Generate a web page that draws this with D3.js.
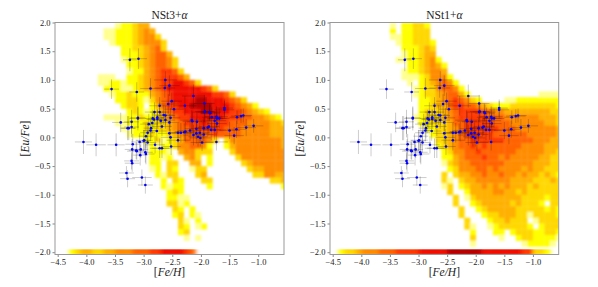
<!DOCTYPE html>
<html>
<head>
<meta charset="utf-8">
<script src="https://cdn.jsdelivr.net/npm/d3@7"></script>
<style>
body{margin:0;background:#fff;}
svg{display:block;}
text{font-family:"Liberation Serif","DejaVu Serif",serif;fill:#222;}
</style>
</head>
<body>
<svg id="chart" width="598" height="287"></svg>
<script>
//observed stars, the same in both panels
var feh = [-3.24,-3.09,-3.56,-3.12,-2.88,-2.62,-2.63,-2.55,-2.13,-2.51,-2.57,-2.72,-2.47,-2.28,-1.94,
	-2.81,-2.72,-2.84,-2.82,-2.76,-2.76,-2.65,-2.62,-2.70,-2.62,-2.53,-2.55,-3.40,-3.21,-3.10,-3.10,
	-3.28,-3.26,-3.21,-2.91,-2.85,-2.87,-2.88,-2.77,-2.68,-2.93,-2.96,-3.00,-3.07,-3.19,-3.20,-3.12,
	-3.05,-3.06,-2.97,-2.96,-4.05,-3.83,-3.48,-2.80,-2.72,-2.68,-2.52,-2.55,-2.40,-2.40,-2.29,
	-2.16,-2.15,-2.07,-1.94,-1.93,-1.85,-1.84,-1.59,-1.59,-1.73,-1.81,-1.72,-1.68,-1.76,-1.72,-1.86,-1.88,
	-1.95,-1.82,-1.76,-1.50,-1.38,-1.42,-1.37,-1.30,-1.26,-1.21,-1.08,-2.08,-2.19,-2.27,-2.35,-2.02,-2.08,
	-1.95,-2.05,-2.01,-2.13,-1.98,-1.73,-2.53,-3.30,-3.28,-3.21,-3.20,-3.03,-2.97,-3.13,-2.99,-2.93];
var eufe = [1.35,1.37,.84,.79,.85,1.00,.86,.90,.72,.63,.58,.55,.49,.55,.59,
	.44,.44,.33,.31,.35,.32,.39,.38,.29,.30,.34,.26,.26,.27,.34,.33,
	.16,.16,.18,.23,.25,.16,.12,.11,.19,.08,.02,-.06,-.08,-.12,-.21,-.24,
	-.21,-.31,-.26,-.29,-.08,-.13,-.13,-.13,-.19,-.19,-.16,.07,-.05,.08,.09,
	.30,.28,.27,.44,.45,.44,.42,.51,.48,.36,.35,.33,.33,.29,.24,.19,.17,
	.16,.13,.13,.12,.14,.03,.35,.37,.38,.17,.20,.15,.12,.10,.08,.08,.07,
	.05,.01,-.01,.04,-.09,-.08,0,-.62,-.72,-.41,-.45,-.70,-.83,-.23,-.05,-.09];
var fehErr = [.12,.15,.13,.13,.18,.20,.18,.18,.20,.18,.18,.18,.17,.20,.18,
	.17,.17,.13,.13,.13,.17,.17,.17,.13,.17,.17,.17,.15,.13,.13,.15,
	.13,.13,.13,.15,.17,.13,.13,.17,.17,.13,.13,.13,.15,.13,.13,.17,
	.13,.13,.13,.15,.15,.17,.15,.17,.17,.17,.17,.20,.20,.17,.18,
	.20,.17,.17,.20,.17,.20,.17,.15,.17,.20,.17,.17,.18,.20,.17,.18,.17,
	.17,.17,.20,.18,.17,.17,.13,.17,.15,.17,.17,.20,.20,.18,.18,.17,.20,
	.17,.17,.18,.18,.20,.20,.17,.13,.13,.13,.13,.17,.13,.13,.15,.15];
var eufeErr = [.20,.18,.17,.17,.18,.15,.17,.18,.20,.15,.17,.15,.15,.17,.15,
	.17,.17,.15,.15,.14,.15,.17,.17,.15,.15,.17,.15,.17,.21,.18,.21,
	.21,.21,.18,.18,.18,.18,.18,.17,.17,.18,.21,.18,.15,.18,.18,.15,
	.15,.18,.18,.18,.21,.20,.20,.15,.17,.17,.15,.18,.18,.17,.15,
	.17,.17,.17,.17,.15,.15,.15,.15,.15,.18,.17,.15,.17,.15,.17,.15,.15,
	.18,.18,.17,.15,.15,.15,.12,.12,.12,.15,.12,.18,.18,.17,.17,.18,.18,
	.17,.17,.15,.18,.15,.15,.15,.12,.15,.15,.15,.14,.15,.15,.18,.18];

//density levels, one row per 0.1 dex in [Eu/Fe] from 2.0 down,
//one character per 0.1 dex in [Fe/H] from -4.5, "." is an empty cell
var nst3Rows = [
	"..........122344",
	"........112223454",
	"........1122234553",
	".........1222345553",
	"...........22334563",
	"...........222345664",
	"...........1223456653",
	"............223456653",
	"............1224567763",
	".......111..22345677764",
	".......112212234567788763",
	"........22211234567888888763",
	".........1223222456788888887763",
	"..........22332135678888998887653",
	"...........2332.2467788999988876542",
	"............2321235677888998887765432",
	"........1111223223456778888887776655432",
	"..........112223233456777877776665555443",
	"...........11223233456677777766655555444",
	"............1222322345666667666655555444",
	"...............2231234666653.35555555554",
	"................21223556652..24555555554",
	"................2221.455333...3555555555",
	"................2212..453.2....355555555",
	"................22.33..44.2.....34555555",
	"................12.32..133.......3445555",
	".................2133...34........335544",
	"..................2.32...33..........334",
	"..................2122....2............2",
	"...................232",
	"...................2211",
	"...................3312",
	"....................32.2",
	"....................23.21",
	".....................31.2",
	".....................32.12",
	".....................23",
	"......................1.1"
];
var nst1Rows = [
	"..........1.22332",
	"..........2.22333",
	"..........1122333",
	"...........1223332",
	"............222343",
	"............122344",
	"...........11223452",
	".............2234542",
	"............12234554",
	"............111235552",
	".............1.2345652",
	"..............123356652",
	"..............1233456642............1111",
	"...............22345676532....1122222222",
	"...............2234467766543222333333332",
	"...............2333456777766554444444433",
	"..............12333456777776665555554443",
	"...............2233346677777666555555443",
	"................223345677777766655555554",
	".................23345677777666666555554",
	"..................3345667777776666655544",
	"..................2345667676666665555444",
	"...................235566766666655555443",
	"...................224566676656555554433",
	"...................134556666665555544433",
	"....................23555665655554544333",
	"...................3.3445565565545443432",
	"...................31.344555555444433343",
	"...................13.234454545444343333",
	"....................3..24444554434333333",
	".....................3.13444444443333233",
	".....................3..2344444343332.33",
	"......................3..234444433333232",
	"......................3...23344433133332",
	".......................3...2334333.13333",
	".......................31..12333332.2333",
	"........................2...22.233322332",
	"........................3....1..23322221",
	"........................1........122221"
];

//marginal strip at the foot of each panel, one level per 0.1 dex starting at stripStart
var nst3StripStart = -4.3;
var nst3Strip = [2,3,4,4,3,3,4,4,5,5,5,6,6,6,7,7,8,8,8,8,7,6];
var nst1StripStart = -4.4;
var nst1Strip = [2,3,3,4,5,5,5,6,6,6,7,7,7,7,8,8,8,8,8,9,9,9,9,9,9,8,8,8,8,8,8,8,7,7,3,3,2];

var xTicks = [-4.5,-4,-3.5,-3,-2.5,-2,-1.5,-1];
var yTicks = [-2,-1.5,-1,-.5,0,.5,1,1.5,2];
var levelColors = ["#ffff90","#ffff00","#ffd800","#ffb000","#ff8c00","#ff6400","#ff3800","#f01000","#b80000"];

var svg = d3.select("#chart");
var color = d3.scaleLinear().domain(d3.range(1,10)).range(levelColors);
var defs = svg.append("defs");
defs.append("filter").attr("id","soft")
	.attr("x","-5%").attr("y","-5%").attr("width","110%").attr("height","110%")
	.append("feGaussianBlur").attr("stdDeviation",1.25);
defs.append("filter").attr("id","softx")
	.attr("x","-5%").attr("y","-20%").attr("width","110%").attr("height","140%")
	.append("feGaussianBlur").attr("stdDeviation","2 0.3");

var fmt = function(d){ return d3.format(".1f")(d).replace("-","\u2212"); };

function draw_panel(p, idx){
	var x = d3.scaleLinear().domain([-4.547,-0.55]).range(p.xr);
	var y = d3.scaleLinear().domain([-2.04,2]).range([254.5,22.5]);
	var g = svg.append("g");
	var clip = "clip"+idx;
	defs.append("clipPath").attr("id",clip).append("rect")
		.attr("x",p.xr[0]).attr("y",22.5).attr("width",p.xr[1]-p.xr[0]).attr("height",232);

	//density cells
	var cells = [];
	p.rows.forEach(function(row,k){
		row.split("").forEach(function(c,i){
			if(c!="."){ cells.push({fe:-4.5+i*0.1, eu:2-k*0.1, v:+c}); }
		});
	});
	g.append("g").attr("clip-path","url(#"+clip+")")
		.append("g").attr("filter","url(#soft)")
		.selectAll("rect").data(cells).enter().append("rect")
		.attr("x",function(d){return x(d.fe)})
		.attr("y",function(d){return y(d.eu)})
		.attr("width",x(0.1)-x(0)+0.3)
		.attr("height",y(0)-y(0.1)+0.3)
		.attr("fill",function(d){return color(d.v)});

	//strip along the bottom
	g.append("g").attr("clip-path","url(#"+clip+")")
		.append("g").attr("filter","url(#softx)")
		.selectAll("rect").data(p.strip).enter().append("rect")
		.attr("x",function(d,i){return x(p.stripStart+i*0.1)})
		.attr("y",y(-1.95))
		.attr("width",x(0.1)-x(0)+0.5)
		.attr("height",y(0)-y(0.08))
		.attr("fill",function(d){return color(d)});

	//error bars then stars
	var stars = g.append("g").attr("clip-path","url(#"+clip+")");
	var errs = stars.append("g").attr("stroke","#000").attr("stroke-opacity",0.2).attr("stroke-width",1);
	feh.forEach(function(f,i){
		errs.append("line").attr("x1",x(f-fehErr[i])).attr("x2",x(f+fehErr[i])).attr("y1",y(eufe[i])).attr("y2",y(eufe[i]));
		errs.append("line").attr("x1",x(f)).attr("x2",x(f)).attr("y1",y(eufe[i]-eufeErr[i])).attr("y2",y(eufe[i]+eufeErr[i]));
	});
	stars.append("g").selectAll("circle").data(feh).enter().append("circle")
		.attr("cx",function(d){return x(d)})
		.attr("cy",function(d,i){return y(eufe[i])})
		.attr("r",1.3)
		.attr("fill","#0000ff");

	//axes
	var ax = g.append("g").attr("transform","translate(0,254.5)")
		.call(d3.axisBottom(x).tickValues(xTicks).tickFormat(fmt).tickSize(2.5).tickPadding(2));
	var ay = g.append("g").attr("transform","translate("+p.xr[0]+",0)")
		.call(d3.axisLeft(y).tickValues(yTicks).tickFormat(fmt).tickSize(2.5).tickPadding(2));
	[ax,ay].forEach(function(a){
		a.attr("font-family",null);
		a.selectAll("text").attr("font-size",8.5);
		a.selectAll("line").attr("stroke","#555").attr("stroke-width",0.7);
		a.select(".domain").remove();
	});
	g.append("rect").attr("x",p.xr[0]).attr("y",22.5)
		.attr("width",p.xr[1]-p.xr[0]).attr("height",232)
		.attr("fill","none").attr("stroke","#999").attr("stroke-width",1);

	//labels
	var cx = (p.xr[0]+p.xr[1])/2;
	var title = g.append("text").attr("x",cx).attr("y",18.5).attr("text-anchor","middle").attr("font-size",11.5);
	title.append("tspan").text(p.title+"+");
	title.append("tspan").attr("font-style","italic").text("\u03b1");

	var xl = g.append("text").attr("x",cx).attr("y",276).attr("text-anchor","middle").attr("font-size",11.5);
	xl.append("tspan").text("[");
	xl.append("tspan").attr("font-style","italic").text("Fe/H");
	xl.append("tspan").text("]");

	var yl = g.append("text").attr("transform","translate("+(p.xr[0]-26)+",138.5) rotate(-90)")
		.attr("text-anchor","middle").attr("font-size",11.5);
	yl.append("tspan").text("[");
	yl.append("tspan").attr("font-style","italic").text("Eu/Fe");
	yl.append("tspan").text("]");
}

draw_panel({title:"NSt3",xr:[55,284],rows:nst3Rows,strip:nst3Strip,stripStart:nst3StripStart},0);
draw_panel({title:"NSt1",xr:[330,558.7],rows:nst1Rows,strip:nst1Strip,stripStart:nst1StripStart},1);
</script>
</body>
</html>
